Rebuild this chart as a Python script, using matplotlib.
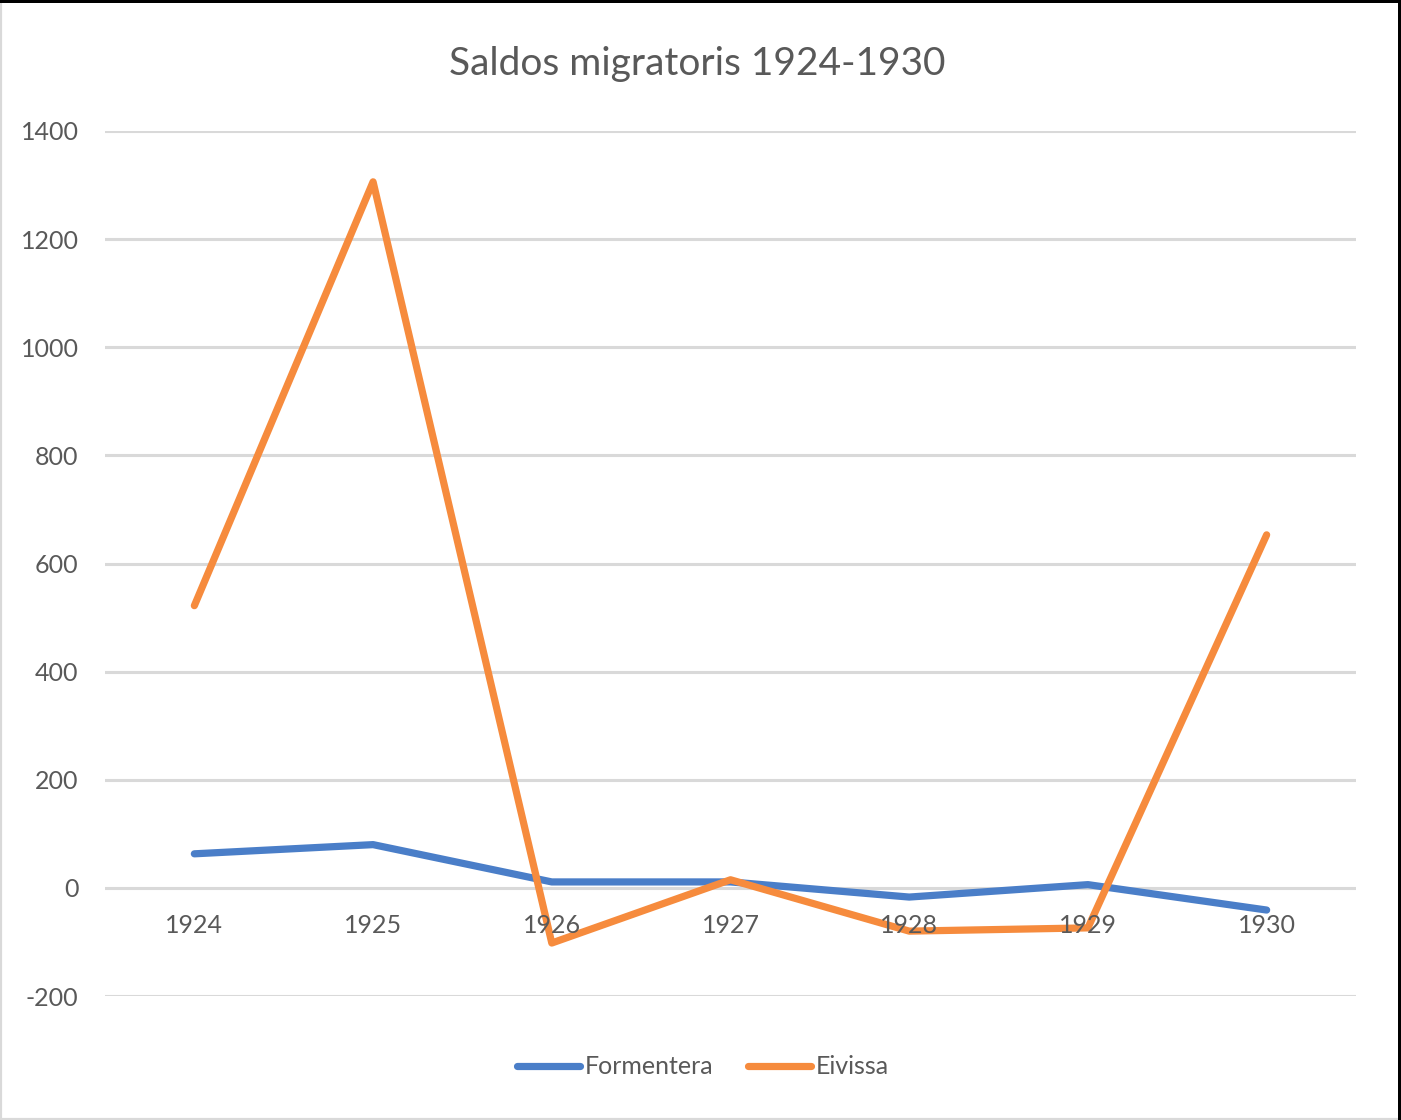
import numpy as np
import matplotlib.pyplot as plt
from matplotlib.patches import Rectangle

years = ["1924", "1925", "1926", "1927", "1928", "1929", "1930"]
formentera = [63, 80, 11, 11, -17, 6, -41]
eivissa = [522, 1306, -102, 15, -80, -74, 653]
yticks = [-200, 0, 200, 400, 600, 800, 1000, 1200, 1400]

text_col = "#595959"
plt.rcParams['font.family'] = ['Lato', 'DejaVu Sans']

fig = plt.figure(figsize=(14.01, 11.2), dpi=100)
# figure frame: gray inner border, dark strip top/right
fig.patches.append(Rectangle((0, 0), 1, 1, transform=fig.transFigure,
                             facecolor="white", edgecolor="#D9D9D9", linewidth=3, zorder=-10))
fig.patches.append(Rectangle((0, 1 - 3 / 1120), 1, 3 / 1120, transform=fig.transFigure,
                             facecolor="black", edgecolor="none"))
fig.patches.append(Rectangle((1 - 3 / 1401, 0), 3 / 1401, 1, transform=fig.transFigure,
                             facecolor="black", edgecolor="none"))

ax = fig.add_axes([105 / 1401, 1 - 996 / 1120, (1356 - 105) / 1401, (996 - 131) / 1120])
x = np.arange(len(years))
ax.plot(x, formentera, color="#4A7EC8", linewidth=5.2, solid_capstyle="round",
        solid_joinstyle="round", label="Formentera", zorder=3)
ax.plot(x, eivissa, color="#F68B3D", linewidth=5.2, solid_capstyle="round",
        solid_joinstyle="round", label="Eivissa", zorder=3)

ax.set_xlim(-0.5, len(years) - 0.5)
ax.set_ylim(-200, 1400)
ax.set_yticks(yticks)
ax.set_yticklabels([str(v) for v in yticks])
ax.grid(axis="y", color="#D9D9D9", linewidth=2.2)
ax.set_axisbelow(True)
for s in ax.spines.values():
    s.set_visible(False)
ax.tick_params(axis="y", length=0, pad=19, labelsize=18, labelcolor=text_col)
ax.set_xticks([])

# category labels sit just below the zero line, drawn over the lines
for xi, lab in zip(x, years):
    ax.annotate(lab, xy=(xi, 0), xytext=(0, -27), textcoords="offset points",
                ha="center", va="center", fontsize=18, color=text_col, zorder=5)

fig.text(0.498, 1 - 64 / 1120, "Saldos migratoris 1924-1930", ha="center", va="center",
         fontsize=28, color=text_col)

leg = fig.legend(loc="center", bbox_to_anchor=(703 / 1401, 1 - 1067 / 1120), ncol=2,
                 frameon=False, fontsize=18, handlelength=2.5, handletextpad=0.2,
                 columnspacing=1.4, labelcolor=text_col)

fig.savefig("out.png", dpi=100)
